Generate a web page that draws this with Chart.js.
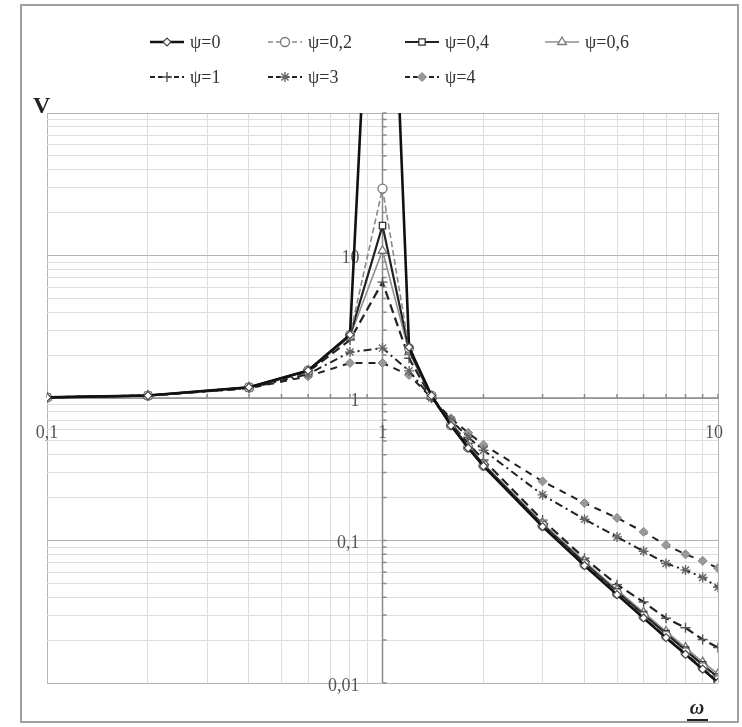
<!DOCTYPE html>
<html lang="ru">
<head>
<meta charset="UTF-8">
<title>V(ω)</title>
<script src="https://cdn.jsdelivr.net/npm/chart.js"></script>
<style>
    html, body { margin: 0; padding: 0; background: #fff; }
    #wrap { position: relative; width: 742px; height: 727px; }
</style>
</head>
<body>
<div id="wrap">
    <canvas id="chart" width="742" height="727"></canvas>
</div>
<script>
// frequency ratio ω
const omega = [0.1, 0.2, 0.4, 0.6, 0.8, 1, 1.2, 1.4, 1.6, 1.8, 2, 3, 4, 5, 6, 7, 8, 9, 10];

// amplification V for each ψ (ψ=0 at ω=1 runs off the top)
const v0  = [1.01, 1.04, 1.19, 1.56, 2.78, 100000, 2.27, 1.04, 0.64, 0.446, 0.333, 0.125, 0.0667, 0.0417, 0.0286, 0.0208, 0.0159, 0.0125, 0.0101];
const v02 = [1.01, 1.04, 1.19, 1.56, 2.77, 29.5, 2.24, 1.04, 0.645, 0.45, 0.336, 0.127, 0.068, 0.0425, 0.0293, 0.0214, 0.0164, 0.0129, 0.0105];
const v04 = [1.01, 1.04, 1.19, 1.55, 2.74, 16.2, 2.18, 1.03, 0.65, 0.455, 0.34, 0.129, 0.0695, 0.0436, 0.0302, 0.0222, 0.017, 0.0134, 0.011];
const v06 = [1.01, 1.04, 1.19, 1.55, 2.7, 10.8, 2.1, 1.02, 0.655, 0.46, 0.345, 0.132, 0.0715, 0.045, 0.0313, 0.023, 0.0177, 0.014, 0.0116];
const v1  = [1.01, 1.04, 1.18, 1.53, 2.55, 6.5, 1.9, 1.0, 0.66, 0.48, 0.367, 0.139, 0.075, 0.049, 0.037, 0.0285, 0.0244, 0.0202, 0.0177];
const v3  = [1.01, 1.04, 1.17, 1.47, 2.1, 2.24, 1.55, 1.0, 0.7, 0.53, 0.43, 0.209, 0.141, 0.106, 0.084, 0.069, 0.062, 0.055, 0.047];
const v4  = [1.01, 1.04, 1.17, 1.42, 1.76, 1.76, 1.45, 1.0, 0.72, 0.57, 0.47, 0.26, 0.183, 0.144, 0.115, 0.093, 0.08, 0.072, 0.064];

const labels = ['ψ=0', 'ψ=0,2', 'ψ=0,4', 'ψ=0,6', 'ψ=1', 'ψ=3', 'ψ=4'];

// grid lines and the labelled ticks
const xGrid = [0.1, 0.2, 0.3, 0.4, 0.5, 0.6, 0.7, 0.8, 0.9, 1, 2, 3, 4, 5, 6, 7, 8, 9, 10];
const yGrid = [0.01, 0.02, 0.03, 0.04, 0.05, 0.06, 0.07, 0.08, 0.09,
               0.1, 0.2, 0.3, 0.4, 0.5, 0.6, 0.7, 0.8, 0.9,
               1, 2, 3, 4, 5, 6, 7, 8, 9,
               10, 20, 30, 40, 50, 60, 70, 80, 90, 100];
const xTickVals = [0.1, 1, 10];
const xTickText = ['0,1', '1', '10'];
const yTickVals = [10, 1, 0.1, 0.01];
const yTickText = ['10', '1', '0,1', '0,01'];

function pts(v) {
    return omega.map((x, i) => ({ x: x, y: v[i] }));
}
function isDecade(v) {
    const l = Math.log10(v);
    return Math.abs(l - Math.round(l)) < 1e-6;
}

const datasets = [
    { label: labels[0], data: pts(v0), borderColor: '#111', borderWidth: 2.6, borderDash: [],
      pointStyle: 'rectRot', pointRadius: 4, pointBackgroundColor: '#fff', pointBorderColor: '#444', pointBorderWidth: 1.2 },
    { label: labels[1], data: pts(v02), borderColor: '#8a8a8a', borderWidth: 1.6, borderDash: [6, 3],
      pointStyle: 'circle', pointRadius: 4.5, pointBackgroundColor: '#fff', pointBorderColor: '#777', pointBorderWidth: 1.3 },
    { label: labels[2], data: pts(v04), borderColor: '#222', borderWidth: 2.2, borderDash: [],
      pointStyle: 'rect', pointRadius: 4.5, pointBackgroundColor: '#fff', pointBorderColor: '#333', pointBorderWidth: 1.3 },
    { label: labels[3], data: pts(v06), borderColor: '#8f8f8f', borderWidth: 1.6, borderDash: [],
      pointStyle: 'triangle', pointRadius: 5, pointBackgroundColor: '#fff', pointBorderColor: '#777', pointBorderWidth: 1.3 },
    { label: labels[4], data: pts(v1), borderColor: '#222', borderWidth: 2.2, borderDash: [9, 5],
      pointStyle: 'cross', pointRadius: 5, pointBackgroundColor: '#fff', pointBorderColor: '#555', pointBorderWidth: 1.4 },
    { label: labels[5], data: pts(v3), borderColor: '#222', borderWidth: 2, borderDash: [8, 4, 2, 4],
      pointStyle: 'star', pointRadius: 5, pointBackgroundColor: '#fff', pointBorderColor: '#666', pointBorderWidth: 1.4 },
    { label: labels[6], data: pts(v4), borderColor: '#222', borderWidth: 2, borderDash: [7, 6],
      pointStyle: 'rectRot', pointRadius: 4.5, pointBackgroundColor: '#999', pointBorderColor: '#888', pointBorderWidth: 1 }
];
datasets.forEach(d => { d.tension = 0; d.fill = false; });

// legend cell positions (symbol start, row centre)
const legendCells = [
    [150, 42], [268, 42], [405, 42], [545, 42],
    [150, 77], [268, 77], [405, 77]
];

const serif = '"Liberation Serif", "DejaVu Serif", serif';

const decor = {
    id: 'decor',
    beforeDatasetsDraw(chart) {
        const ctx = chart.ctx;
        const xs = chart.scales.x, ys = chart.scales.y;
        const x1 = xs.getPixelForValue(1), y1 = ys.getPixelForValue(1);
        ctx.save();
        // axes crossing at (1, 1)
        ctx.strokeStyle = '#8a8a8a';
        ctx.lineWidth = 1.5;
        ctx.beginPath();
        ctx.moveTo(xs.left, y1); ctx.lineTo(xs.right, y1);
        ctx.moveTo(x1, ys.top); ctx.lineTo(x1, ys.bottom);
        xGrid.forEach(v => {
            const p = xs.getPixelForValue(v);
            ctx.moveTo(p, y1 - 4); ctx.lineTo(p, y1);
        });
        yGrid.forEach(v => {
            const p = ys.getPixelForValue(v);
            ctx.moveTo(x1, p); ctx.lineTo(x1 + 4, p);
        });
        ctx.stroke();

        ctx.fillStyle = '#555';
        ctx.font = '18px ' + serif;
        ctx.textBaseline = 'middle';
        ctx.textAlign = 'center';
        xTickVals.forEach((v, i) => {
            let p = xs.getPixelForValue(v);
            if (i === xTickVals.length - 1) p -= 4;
            ctx.fillText(xTickText[i], p, y1 + 35);
        });
        ctx.textAlign = 'right';
        yTickVals.forEach((v, i) => {
            ctx.fillText(yTickText[i], x1 - 23, ys.getPixelForValue(v) + 3);
        });
        ctx.restore();
    },
    afterDraw(chart) {
        const ctx = chart.ctx;
        ctx.save();
        // outer frame
        ctx.strokeStyle = '#a0a0a0';
        ctx.lineWidth = 2;
        ctx.strokeRect(21, 5, 717, 717);

        // axis names
        ctx.fillStyle = '#222';
        ctx.font = 'bold 24px ' + serif;
        ctx.textAlign = 'left';
        ctx.textBaseline = 'alphabetic';
        ctx.fillText('V', 33, 113);
        ctx.font = 'bold italic 20px ' + serif;
        ctx.textAlign = 'center';
        ctx.fillText('ω', 697, 714);
        ctx.fillRect(687, 719, 21, 2);

        // legend
        const drawPoint = Chart.helpers && Chart.helpers.drawPoint;
        chart.data.datasets.forEach((ds, i) => {
            const [lx, ly] = legendCells[i];
            ctx.strokeStyle = ds.borderColor;
            ctx.lineWidth = ds.borderWidth;
            ctx.setLineDash(ds.borderDash.length ? [5, 3] : []);
            ctx.beginPath();
            ctx.moveTo(lx, ly); ctx.lineTo(lx + 34, ly);
            ctx.stroke();
            ctx.setLineDash([]);
            ctx.fillStyle = ds.pointBackgroundColor;
            ctx.strokeStyle = ds.pointBorderColor;
            ctx.lineWidth = ds.pointBorderWidth;
            if (drawPoint) {
                drawPoint(ctx, { pointStyle: ds.pointStyle, radius: ds.pointRadius, borderWidth: ds.pointBorderWidth, rotation: 0 }, lx + 17, ly);
            }
            ctx.fillStyle = '#333';
            ctx.font = '18px ' + serif;
            ctx.textAlign = 'left';
            ctx.textBaseline = 'middle';
            ctx.fillText(ds.label, lx + 40, ly + 1);
        });
        ctx.restore();
    }
};

new Chart(document.getElementById('chart').getContext('2d'), {
    type: 'line',
    data: { datasets: datasets },
    options: {
        responsive: false,
        animation: false,
        layout: { padding: { left: 47, top: 113, right: 24, bottom: 44 } },
        plugins: { legend: { display: false }, tooltip: { enabled: false } },
        scales: {
            x: {
                type: 'logarithmic', min: 0.1, max: 10,
                afterBuildTicks: s => { s.ticks = xGrid.map(v => ({ value: v })); },
                ticks: { display: false },
                border: { display: false },
                grid: {
                    drawTicks: false,
                    color: c => (c.tick && isDecade(c.tick.value)) ? '#b4b4b4' : '#dedede',
                    lineWidth: 1
                }
            },
            y: {
                type: 'logarithmic', min: 0.01, max: 100,
                afterBuildTicks: s => { s.ticks = yGrid.map(v => ({ value: v })); },
                ticks: { display: false },
                border: { display: false },
                grid: {
                    drawTicks: false,
                    color: c => (c.tick && isDecade(c.tick.value)) ? '#b4b4b4' : '#dedede',
                    lineWidth: 1
                }
            }
        }
    },
    plugins: [decor]
});
</script>
</body>
</html>
